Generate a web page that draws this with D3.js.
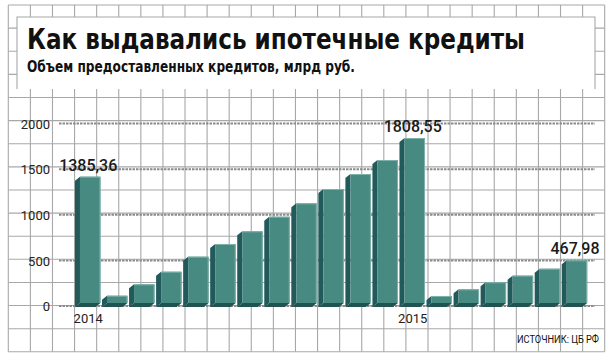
<!DOCTYPE html>
<html>
<head>
<meta charset="utf-8">
<script src="https://cdn.jsdelivr.net/npm/d3@7"></script>
<style>
  html, body { margin: 0; padding: 0; background: #fff; }
  svg { display: block; }
</style>
</head>
<body>
<svg id="chart" width="613" height="360"></svg>
<script>
// ---- data ----
const title = "Как выдавались ипотечные кредиты";
const subtitle = "Объем предоставленных кредитов, млрд руб.";
const source = "ИСТОЧНИК: ЦБ РФ";
const categories = ["2014", "", "", "", "", "", "", "", "", "", "", "", "2015", "", "", "", "", "", ""];
const values = [1385.36, 80, 205, 343, 508, 647, 786, 946, 1093, 1250, 1414, 1568, 1808.55, 77, 150, 227, 300, 376, 467.98];
const valueLabels = ["1385,36", "", "", "", "", "", "", "", "", "", "", "", "1808,55", "", "", "", "", "", "467,98"];
const yTicks = [0, 500, 1000, 1500, 2000];

// ---- layout ----
const svg = d3.select("#chart");
const W = 613, H = 360;
const depth = { dx: 5, dy: 4 };

// background graph paper
const gridX0 = 8.3, gridX1 = 604.7, gridY0 = 5, gridY1 = 351.8;
const nCols = 27, nRows = 15;
const paper = svg.append("g").attr("stroke", "#a8a8a8").attr("stroke-width", 1.1);
d3.range(nCols + 1).forEach(k => {
  const x = gridX0 + (gridX1 - gridX0) * k / nCols;
  paper.append("line").attr("x1", x).attr("x2", x).attr("y1", gridY0).attr("y2", gridY1);
});
d3.range(nRows + 1).forEach(k => {
  const y = gridY0 + (gridY1 - gridY0) * k / nRows;
  paper.append("line").attr("x1", gridX0).attr("x2", gridX1).attr("y1", y).attr("y2", y);
});

// title box
svg.append("rect").attr("x", 17).attr("y", 17).attr("width", 578).attr("height", 72).attr("fill", "#fff");
svg.append("path").attr("d", "M17,89 L17,17 L595,17 L595,89")
  .attr("fill", "none").attr("stroke", "#a8a8a8").attr("stroke-width", 1.1);

svg.append("text").attr("x", 27).attr("y", 49)
  .attr("font-family", "'Liberation Sans Narrow','DejaVu Sans Condensed','Roboto',sans-serif")
  .attr("font-weight", "bold").attr("font-size", 28).attr("fill", "#111")
  .attr("textLength", 498).attr("lengthAdjust", "spacingAndGlyphs")
  .text(title);
svg.append("text").attr("x", 27).attr("y", 72)
  .attr("font-family", "'Liberation Sans Narrow','DejaVu Sans Condensed','Roboto',sans-serif")
  .attr("font-weight", "bold").attr("font-size", 15).attr("fill", "#111")
  .attr("textLength", 328).attr("lengthAdjust", "spacingAndGlyphs")
  .text(subtitle);

// scales
const x = d3.scaleBand().domain(d3.range(values.length))
  .range([76.7, 590.5]).paddingInner(0.242).paddingOuter(0.121);
const y = d3.scaleLinear().domain([0, 2000]).range([303, 120.6]);

// gridlines (back plane)
const grid = svg.append("g");
grid.selectAll("line").data(yTicks).join("line")
  .attr("x1", 59).attr("x2", 595)
  .attr("y1", d => y(d) + 3).attr("y2", d => y(d) + 3)
  .attr("stroke", "#8a8a8a").attr("stroke-width", 2).attr("stroke-dasharray", "2.5,1");

// y axis labels
const yAxis = d3.axisLeft(y).tickValues(yTicks).tickSize(0).tickPadding(0).tickFormat(d3.format("d"));
const yg = svg.append("g").attr("transform", "translate(50,3)").call(yAxis);
yg.select(".domain").remove();
yg.selectAll("text").attr("font-family", "Roboto, 'Liberation Sans', sans-serif")
  .attr("font-size", 13).attr("fill", "#222").attr("dy", "0.36em");

// bars
const bars = svg.append("g");
const bw = x.bandwidth();
const y0 = y(0);
values.forEach((v, i) => {
  const xl = x(i), xr = xl + bw, yt = y(v);
  // left side face
  bars.append("path")
    .attr("d", `M${xl},${yt} L${xl - depth.dx},${yt + depth.dy} L${xl - depth.dx},${y0 + depth.dy} L${xl},${y0} Z`)
    .attr("fill", "#22595a");
  // bottom face
  bars.append("path")
    .attr("d", `M${xl},${y0} L${xl - depth.dx},${y0 + depth.dy} L${xr - depth.dx},${y0 + depth.dy} L${xr},${y0} Z`)
    .attr("fill", "#1f5452");
  // front face
  bars.append("rect").attr("x", xl).attr("y", yt).attr("width", bw).attr("height", y0 - yt)
    .attr("fill", "#478a82");
  // highlight edges
  bars.append("path").attr("d", `M${xl},${yt + 0.5} L${xr - 0.5},${yt + 0.5} L${xr - 0.5},${y0}`)
    .attr("fill", "none").attr("stroke", "#7fb2aa").attr("stroke-width", 1);
});

// value labels
svg.append("g").selectAll("text").data(values.map((v, i) => ({ v, i, t: valueLabels[i] })).filter(d => d.t))
  .join("text")
  .attr("x", d => x(d.i) + bw / 2 - 2).attr("y", d => y(d.v) - 6)
  .attr("text-anchor", "middle")
  .attr("font-family", "Roboto, 'Liberation Sans', sans-serif")
  .attr("font-weight", 500).attr("font-size", 16).attr("fill", "#1a1a1a")
  .text(d => d.t);

// x axis labels (years)
const xAxis = d3.axisBottom(x).tickSize(0).tickPadding(0).tickFormat(i => categories[i]);
const xg = svg.append("g").attr("transform", `translate(-2,${y0 + 11})`).call(xAxis);
xg.select(".domain").remove();
xg.selectAll("text").attr("font-family", "Roboto, 'Liberation Sans', sans-serif")
  .attr("font-size", 13).attr("fill", "#222").attr("dy", "0.71em");

// source
svg.append("text").attr("x", 599).attr("y", 343).attr("text-anchor", "end")
  .attr("font-family", "'Liberation Sans Narrow','Roboto',sans-serif")
  .attr("font-size", 10.5).attr("fill", "#111")
  .attr("textLength", 82).attr("lengthAdjust", "spacingAndGlyphs")
  .text(source);
</script>
</body>
</html>
